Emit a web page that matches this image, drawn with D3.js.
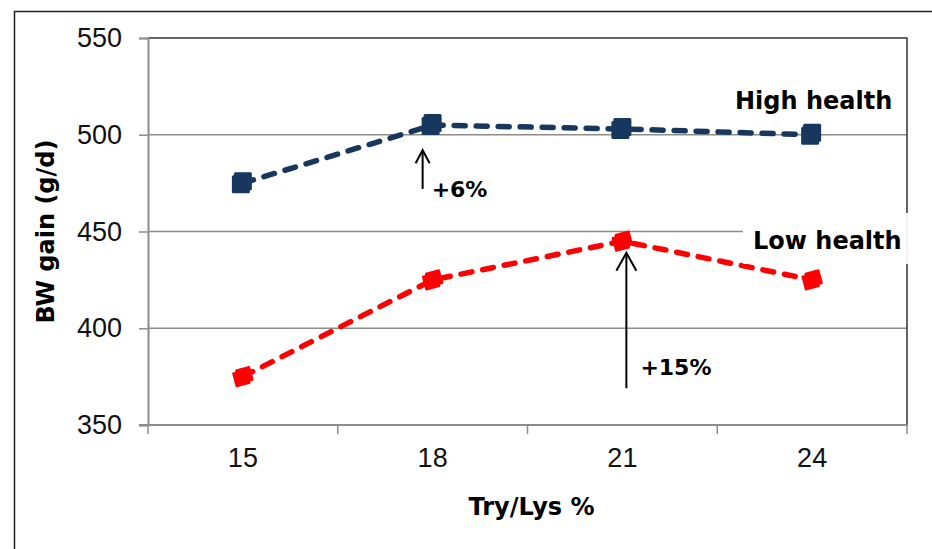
<!DOCTYPE html>
<html>
<head>
<meta charset="utf-8">
<script src="https://cdn.jsdelivr.net/npm/d3@7"></script>
<style>
  html, body { margin: 0; padding: 0; background: #fff; }
  svg { display: block; }
  .tick-label { font-family: "Liberation Sans", Arial, sans-serif; font-size: 27px; fill: #111; }
  .bold-label { font-family: "DejaVu Sans", sans-serif; font-weight: bold; fill: #000; }
</style>
</head>
<body>
<svg id="chart" width="932" height="549"></svg>
<script>
// Body-weight gain by Try/Lys ratio, for high and low health status
const categories = ["15", "18", "21", "24"];
const highHealth = [475, 505, 503, 500];
const lowHealth = [375, 425, 445, 425];
const yTicks = [350, 400, 450, 500, 550];
const seriesNames = ["High health", "Low health"];
const annotations = [
  { label: "+6%", cat: "18", from: 472, to: 492 },
  { label: "+15%", cat: "21", from: 369, to: 439 }
];

const W = 932, H = 549;
const plot = { left: 148, right: 907, top: 38, bottom: 425 };
const navy = "#17375E", red = "#FF0000", grid = "#8c8c8c";

const svg = d3.select("#chart");

const x = d3.scaleBand().domain(categories).range([plot.left, plot.right]).paddingInner(0).paddingOuter(0);
const xEdge = d3.scaleLinear().domain([0, categories.length]).range([plot.left, plot.right]);
const y = d3.scaleLinear().domain([350, 550]).range([plot.bottom, plot.top]);
const cx = c => x(c) + x.bandwidth() / 2;

// Outer frame (left and top edges)
svg.append("path")
  .attr("d", `M14.5,${H} L14.5,11.5 L${W},11.5`)
  .attr("fill", "none").attr("stroke", "#222").attr("stroke-width", 1.5);

// Horizontal gridlines
svg.append("g").selectAll("line")
  .data(yTicks.filter(v => v > 350 && v < 550))
  .join("line")
  .attr("x1", plot.left).attr("x2", plot.right)
  .attr("y1", d => y(d)).attr("y2", d => y(d))
  .attr("stroke", grid).attr("stroke-width", 1.5);

// Plot area border (top and right)
svg.append("path")
  .attr("d", `M${plot.left},${y(550)} L${plot.right},${y(550)} L${plot.right},${plot.bottom}`)
  .attr("fill", "none").attr("stroke", "#333").attr("stroke-width", 1.5);

// Y axis
const yAxis = svg.append("g")
  .attr("transform", `translate(${plot.left},0)`)
  .call(d3.axisLeft(y).tickValues(yTicks).tickSize(9).tickPadding(17).tickFormat(d3.format("d")));
yAxis.select(".domain").attr("stroke", grid).attr("stroke-width", 2);
yAxis.selectAll(".tick line").attr("stroke", grid).attr("stroke-width", 1.5);
yAxis.selectAll(".tick text").attr("class", "tick-label").attr("fill", "#111")
  .attr("font-family", null).attr("font-size", null);

// X axis: labels centred in each band, tick marks on band edges
const xAxis = svg.append("g")
  .attr("transform", `translate(0,${plot.bottom})`)
  .call(d3.axisBottom(x).tickSize(0).tickPadding(23));
xAxis.select(".domain").remove();
xAxis.selectAll(".tick text").attr("class", "tick-label").attr("fill", "#111")
  .attr("font-family", null).attr("font-size", null);
svg.append("line")
  .attr("x1", plot.left - 9).attr("x2", plot.right)
  .attr("y1", plot.bottom).attr("y2", plot.bottom)
  .attr("stroke", grid).attr("stroke-width", 2);
svg.append("g").selectAll("line")
  .data(d3.range(categories.length + 1))
  .join("line")
  .attr("x1", d => xEdge(d)).attr("x2", d => xEdge(d))
  .attr("y1", plot.bottom).attr("y2", plot.bottom + 9)
  .attr("stroke", grid).attr("stroke-width", 1.5);

// Axis titles
svg.append("text").attr("class", "bold-label")
  .attr("font-size", 24)
  .attr("text-anchor", "middle")
  .attr("transform", `translate(54,${(plot.top + plot.bottom) / 2}) rotate(-90)`)
  .text("BW gain (g/d)");
svg.append("text").attr("class", "bold-label")
  .attr("font-size", 24)
  .attr("text-anchor", "middle")
  .attr("x", (plot.left + plot.right) / 2 + 4).attr("y", 515)
  .text("Try/Lys %");

// Series lines
const line = d3.line().x(d => cx(d.c)).y(d => y(d.v));
function drawSeries(values, color, shape) {
  const pts = categories.map((c, i) => ({ c, v: values[i] }));
  svg.append("path")
    .datum(pts)
    .attr("d", line)
    .attr("fill", "none")
    .attr("stroke", color)
    .attr("stroke-width", 5.5)
    .attr("stroke-linecap", "round")
    .attr("stroke-dasharray", "11,11");
  const g = svg.append("g").attr("fill", color);
  pts.forEach(p => {
    const px = cx(p.c), py = y(p.v);
    if (shape === "square") {
      g.append("rect").attr("x", px - 9).attr("y", py - 11).attr("width", 18).attr("height", 18).attr("rx", 1.5);
      g.append("rect").attr("x", px - 11).attr("y", py - 8).attr("width", 18).attr("height", 18).attr("rx", 1.5);
    } else {
      // slightly tilted diamond, drawn twice with a small offset
      const r = 9.5;
      const pts4 = [-60, 30, 120, 210].map(a => [Math.cos(a * Math.PI / 180) * r, Math.sin(a * Math.PI / 180) * r]);
      const d = (ox, oy) => "M" + pts4.map(q => `${px + ox + q[0]},${py + oy + q[1]}`).join(" L") + " Z";
      g.append("path").attr("d", d(1.5, -1.5)).attr("stroke", color).attr("stroke-width", 2).attr("stroke-linejoin", "round");
      g.append("path").attr("d", d(-1.5, 1.5)).attr("stroke", color).attr("stroke-width", 2).attr("stroke-linejoin", "round");
    }
  });
}
drawSeries(highHealth, navy, "square");
drawSeries(lowHealth, red, "diamond");

// Series labels
svg.append("text").attr("class", "bold-label").attr("font-size", 24)
  .attr("x", 735).attr("y", 109).text(seriesNames[0]);
svg.append("rect")
  .attr("x", 743).attr("y", 213).attr("width", plot.right - 743 + 1).attr("height", 51)
  .attr("fill", "#fff");
svg.append("line")
  .attr("x1", plot.right).attr("x2", plot.right).attr("y1", 213).attr("y2", 264)
  .attr("stroke", "#e4e4e4").attr("stroke-width", 1);
svg.append("text").attr("class", "bold-label").attr("font-size", 24)
  .attr("x", 753).attr("y", 249).text(seriesNames[1]);

// Improvement arrows
annotations.forEach((a, i) => {
  const ax = i === 0 ? cx(a.cat) - 10 : cx(a.cat) + 4;
  const y0 = y(a.from), y1 = y(a.to);
  const hw = i === 0 ? 7 : 10, hh = i === 0 ? 13 : 18;
  const g = svg.append("g").attr("fill", "none").attr("stroke", "#000").attr("stroke-width", 2);
  g.append("line").attr("x1", ax).attr("x2", ax).attr("y1", y0).attr("y2", y1 + 1);
  g.append("path").attr("d", `M${ax - hw},${y1 + hh} L${ax},${y1} L${ax + hw},${y1 + hh}`)
    .attr("stroke-linejoin", "miter");
  svg.append("text").attr("class", "bold-label").attr("font-size", 22)
    .attr("x", ax + (i === 0 ? 9 : 14))
    .attr("y", i === 0 ? 197 : 375)
    .text(a.label);
});
</script>
</body>
</html>
